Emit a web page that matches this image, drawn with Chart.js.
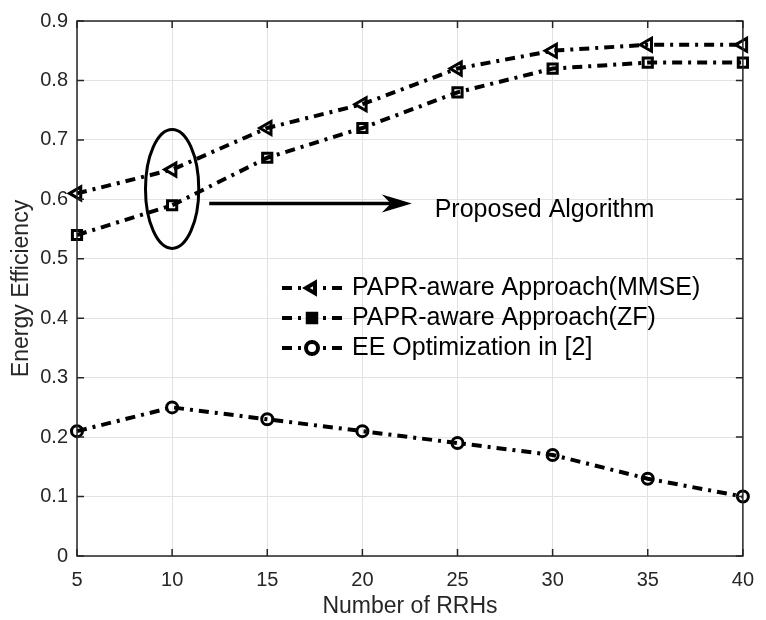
<!DOCTYPE html>
<html>
<head>
<meta charset="utf-8">
<title>Energy Efficiency vs Number of RRHs</title>
<script src="https://cdn.jsdelivr.net/npm/chart.js@4.4.1/dist/chart.umd.min.js"></script>
<style>
    html, body { margin: 0; padding: 0; background: #fff; }
    #wrap { width: 766px; height: 620px; }
</style>
</head>
<body>
<div id="wrap"><canvas id="eeChart" width="766" height="620"></canvas></div>
<script>
// Datos
const numRRHs = [5, 10, 15, 20, 25, 30, 35, 40];
const mmseValues = [0.61, 0.65, 0.72, 0.76, 0.82, 0.85, 0.86, 0.86];
const zfValues = [0.54, 0.59, 0.67, 0.72, 0.78, 0.82, 0.83, 0.83];
const ee2Values = [0.21, 0.25, 0.23, 0.21, 0.19, 0.17, 0.13, 0.10];
const seriesLabels = ['PAPR-aware Approach(MMSE)', 'PAPR-aware Approach(ZF)', 'EE Optimization in [2]'];
const xTickLabels = ['5', '10', '15', '20', '25', '30', '35', '40'];
const yTickLabels = ['0', '0.1', '0.2', '0.3', '0.4', '0.5', '0.6', '0.7', '0.8', '0.9'];

// Anotación (en unidades de los ejes)
const ellipseCenter = { x: 10, y: 0.6175 };
const ellipseRadius = { x: 1.4, y: 0.1 };
const arrowFrom = { x: 11.95, y: 0.593 };
const arrowTo = { x: 22.6, y: 0.593 };
const noteText = 'Proposed Algorithm';
const notePos = { x: 23.8, y: 0.582 };

const FONT = "'Liberation Sans', Arial, Helvetica, sans-serif";
const AXIS_COLOR = '#262626';
const DASH = [10, 6, 3, 6];

function toPoints(values) {
    return numRRHs.map((x, i) => ({ x: x, y: values[i] }));
}

function makeDataset(label, values, style, radius, rotation) {
    return {
        label: label,
        data: toPoints(values),
        borderColor: '#000',
        borderWidth: 4,
        borderDash: DASH,
        fill: false,
        tension: 0,
        pointStyle: style,
        pointRotation: rotation,
        pointRadius: radius,
        pointHoverRadius: radius,
        pointBorderWidth: 3,
        pointBorderColor: '#000',
        pointBackgroundColor: 'rgba(0,0,0,0)',
        clip: false
    };
}

// Plugin para el marco, las marcas interiores, la anotación y la leyenda
const figureExtras = {
    id: 'figureExtras',
    afterDraw(chart) {
        const ctx = chart.ctx;
        const area = chart.chartArea;
        const xs = chart.scales.x;
        const ys = chart.scales.y;

        ctx.save();
        // Marco del área
        ctx.strokeStyle = AXIS_COLOR;
        ctx.lineWidth = 1.5;
        ctx.setLineDash([]);
        ctx.strokeRect(area.left, area.top, area.right - area.left, area.bottom - area.top);

        // Marcas hacia dentro en los cuatro lados
        const tl = 7;
        ctx.beginPath();
        numRRHs.forEach(v => {
            const px = xs.getPixelForValue(v);
            ctx.moveTo(px, area.bottom); ctx.lineTo(px, area.bottom - tl);
            ctx.moveTo(px, area.top); ctx.lineTo(px, area.top + tl);
        });
        yTickLabels.forEach(t => {
            const py = ys.getPixelForValue(parseFloat(t));
            ctx.moveTo(area.left, py); ctx.lineTo(area.left + tl, py);
            ctx.moveTo(area.right, py); ctx.lineTo(area.right - tl, py);
        });
        ctx.stroke();

        // Elipse alrededor de x = 10
        const cx = xs.getPixelForValue(ellipseCenter.x);
        const cy = ys.getPixelForValue(ellipseCenter.y);
        const rx = xs.getPixelForValue(ellipseCenter.x + ellipseRadius.x) - cx;
        const ry = cy - ys.getPixelForValue(ellipseCenter.y + ellipseRadius.y);
        ctx.strokeStyle = '#000';
        ctx.lineWidth = 3;
        ctx.beginPath();
        ctx.ellipse(cx, cy, rx, ry, 0, 0, Math.PI * 2);
        ctx.stroke();

        // Flecha
        const ax1 = xs.getPixelForValue(arrowFrom.x);
        const ay1 = ys.getPixelForValue(arrowFrom.y);
        const ax2 = xs.getPixelForValue(arrowTo.x);
        const ay2 = ys.getPixelForValue(arrowTo.y);
        const headLen = 30, headHalf = 9, back = 9;
        ctx.lineWidth = 3.5;
        ctx.beginPath();
        ctx.moveTo(ax1, ay1);
        ctx.lineTo(ax2 - headLen + back, ay2);
        ctx.stroke();
        ctx.fillStyle = '#000';
        ctx.beginPath();
        ctx.moveTo(ax2, ay2);
        ctx.lineTo(ax2 - headLen, ay2 - headHalf);
        ctx.lineTo(ax2 - headLen + back, ay2);
        ctx.lineTo(ax2 - headLen, ay2 + headHalf);
        ctx.closePath();
        ctx.fill();

        // Texto de la anotación
        ctx.font = '25px ' + FONT;
        ctx.fillStyle = '#000';
        ctx.textAlign = 'left';
        ctx.textBaseline = 'middle';
        ctx.fillText(noteText, xs.getPixelForValue(notePos.x), ys.getPixelForValue(notePos.y));

        // Leyenda dentro del área (sin marco)
        const legX = area.left + 205;
        const legY = area.top + 267;
        const rowH = 30;
        chart.data.datasets.forEach((ds, i) => {
            const y = legY + i * rowH;
            ctx.strokeStyle = '#000';
            ctx.lineWidth = 4;
            ctx.setLineDash(DASH);
            ctx.beginPath();
            ctx.moveTo(legX, y);
            ctx.lineTo(legX + 60, y);
            ctx.stroke();
            ctx.setLineDash([]);
            ctx.fillStyle = ds.pointStyle === 'rect' ? '#000' : '#fff';
            ctx.strokeStyle = '#000';
            Chart.helpers.drawPoint(ctx, {
                pointStyle: ds.pointStyle,
                rotation: ds.pointRotation || 0,
                radius: 6,
                borderWidth: 3
            }, legX + 30, y);
            ctx.fillStyle = '#000';
            ctx.font = '25px ' + FONT;
            ctx.textAlign = 'left';
            ctx.textBaseline = 'middle';
            ctx.fillText(ds.label, legX + 70, y);
        });
        ctx.restore();
    }
};

const ctx = document.getElementById('eeChart').getContext('2d');
window.currentChart = new Chart(ctx, {
    type: 'line',
    data: {
        datasets: [
            makeDataset(seriesLabels[0], mmseValues, 'triangle', 7.5, -90),
            makeDataset(seriesLabels[1], zfValues, 'rect', 6.5, 0),
            makeDataset(seriesLabels[2], ee2Values, 'circle', 5.5, 0)
        ]
    },
    options: {
        responsive: false,
        animation: false,
        devicePixelRatio: 1,
        layout: { padding: { top: 16, right: 13, left: 0, bottom: 0 } },
        plugins: {
            legend: { display: false },
            tooltip: { enabled: false }
        },
        scales: {
            x: {
                type: 'linear',
                min: 5,
                max: 40,
                afterFit: scale => { scale.height = 64; },
                grid: { color: '#e2e2e2', lineWidth: 1, drawTicks: false },
                border: { display: false },
                ticks: {
                    stepSize: 5,
                    padding: 12,
                    color: AXIS_COLOR,
                    font: { family: FONT, size: 20 },
                    callback: v => xTickLabels[numRRHs.indexOf(v)]
                },
                title: {
                    display: true,
                    text: 'Number of RRHs',
                    color: AXIS_COLOR,
                    font: { family: FONT, size: 23 },
                    padding: { top: 0, bottom: 0 }
                }
            },
            y: {
                min: 0,
                max: 0.9,
                afterFit: scale => { scale.width = 77; },
                grid: { color: '#e2e2e2', lineWidth: 1, drawTicks: false },
                border: { display: false },
                ticks: {
                    stepSize: 0.1,
                    padding: 9,
                    color: AXIS_COLOR,
                    font: { family: FONT, size: 20 },
                    callback: v => yTickLabels[Math.round(v * 10)]
                },
                title: {
                    display: true,
                    text: 'Energy Efficiency',
                    color: AXIS_COLOR,
                    font: { family: FONT, size: 23 },
                    padding: { top: 8, bottom: 0 }
                }
            }
        }
    },
    plugins: [figureExtras]
});
</script>
</body>
</html>
